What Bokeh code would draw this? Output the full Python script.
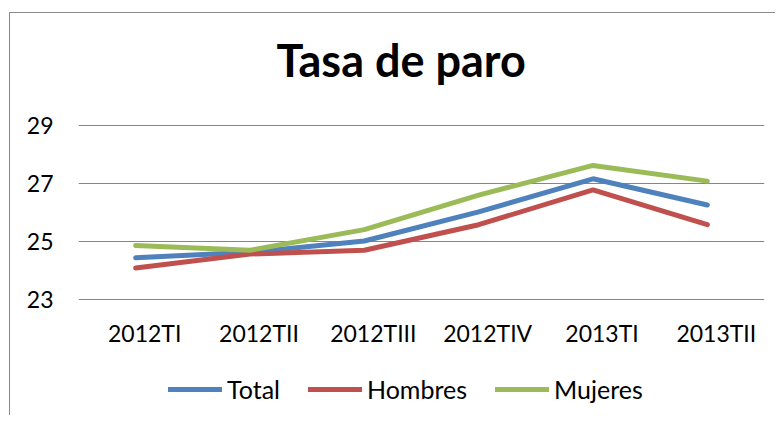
from bokeh.plotting import figure
from bokeh.layouts import column
from bokeh.models import Range1d, LinearAxis, FixedTicker, Legend, LegendItem
from bokeh.embed import file_html
from bokeh.resources import INLINE

# ---- data ----
categories = ["2012TI", "2012TII", "2012TIII", "2012TIV", "2013TI", "2013TII"]
total = [24.44, 24.63, 25.02, 26.02, 27.16, 26.26]
hombres = [24.09, 24.57, 24.70, 25.58, 26.78, 25.58]
mujeres = [24.86, 24.70, 25.41, 26.60, 27.62, 27.08]
series_names = ["Total", "Hombres", "Mujeres"]
y_ticks = [23, 25, 27, 29]
chart_title = "Tasa de paro"

FONT = "Lato"
COLORS = ["#4F81BD", "#C0504D", "#9BBB59"]
xs = list(range(len(categories)))
series = [total, hombres, mujeres]
W = 765

# ---- title strip ----
tf = figure(width=W, height=95, output_backend="svg", toolbar_location=None,
            x_range=Range1d(0, 1), y_range=Range1d(0, 1),
            x_axis_location=None, y_axis_location=None,
            min_border_left=17, min_border_right=0, min_border_top=0, min_border_bottom=0)
tf.outline_line_color = None
tf.grid.visible = False
tf.title.text = chart_title
tf.title.align = "left"
tf.title.offset = 198
tf.title.text_font = FONT
tf.title.text_font_style = "bold"
tf.title.text_font_size = "45px"
tf.title.text_color = "black"
tf.title.standoff = 34

# ---- main chart ----
p = figure(width=W, height=242, output_backend="svg", toolbar_location=None,
           x_range=Range1d(-0.5, len(categories) - 0.5), y_range=Range1d(22.97, 29.03),
           x_axis_location=None, min_border_left=68, min_border_right=11,
           min_border_top=16, min_border_bottom=50)
p.outline_line_color = None
p.background_fill_color = "white"

# label axis shifted slightly right (as in reference)
shift = 9 / (686 / len(categories))
p.extra_x_ranges = {"lbl": Range1d(-0.5 - shift, len(categories) - 0.5 - shift)}
xax = LinearAxis(x_range_name="lbl", ticker=FixedTicker(ticks=xs),
                 major_label_overrides={i: c for i, c in enumerate(categories)})
xax.axis_line_color = None
xax.major_tick_line_color = None
xax.minor_tick_line_color = None
xax.major_label_text_font = FONT
xax.major_label_text_font_size = "23px"
xax.major_label_text_color = "black"
xax.major_label_standoff = 12
p.add_layout(xax, "below")

yax = p.yaxis[0]
yax.ticker = FixedTicker(ticks=y_ticks)
yax.axis_line_color = None
yax.major_tick_line_color = None
yax.minor_tick_line_color = None
yax.major_label_text_font = FONT
yax.major_label_text_font_size = "23px"
yax.major_label_text_color = "black"
yax.major_label_standoff = 19

p.xgrid.visible = False
p.ygrid.ticker = FixedTicker(ticks=y_ticks)
p.ygrid.grid_line_color = "#868686"
p.ygrid.grid_line_width = 1

for vals, col in zip(series, COLORS):
    p.line(xs, vals, line_color=col, line_width=5, line_cap="round")

# ---- legend strip (its lines lie outside the strip's visible range) ----
lf = figure(width=W, height=65, output_backend="svg", toolbar_location=None,
            x_range=Range1d(100, 101), y_range=Range1d(100, 101),
            x_axis_location=None, y_axis_location=None,
            min_border_left=0, min_border_right=0, min_border_top=0, min_border_bottom=0)
lf.outline_line_color = None
lf.grid.visible = False
items = []
for name, vals, col in zip(series_names, series, COLORS):
    r = lf.line(xs, vals, line_color=col, line_width=5, line_cap="round")
    items.append(LegendItem(label=name, renderers=[r]))

legend = Legend(items=items, orientation="horizontal", location=(90, 11))
legend.label_text_font = FONT
legend.label_text_font_size = "25px"
legend.label_text_color = "black"
legend.glyph_width = 54
legend.glyph_height = 24
legend.label_height = 24
legend.label_standoff = 5
legend.spacing = 28
legend.padding = 0
legend.margin = 0
legend.border_line_color = None
legend.background_fill_alpha = 0
lf.add_layout(legend, "center")

layout = column(tf, p, lf, spacing=0)
layout.styles = {"margin-top": "12px", "margin-left": "9px",
                 "border-top": "1px solid #898989", "border-left": "1px solid #898989"}

open("out.html", "w").write(file_html(layout, INLINE))
